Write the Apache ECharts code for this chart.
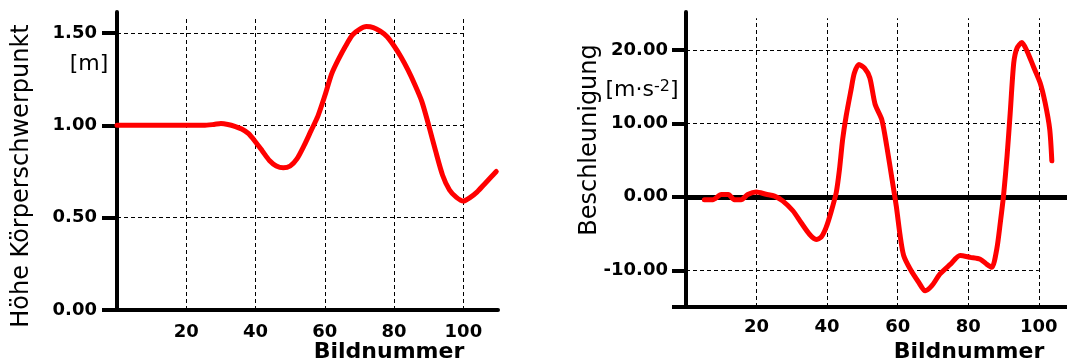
<!DOCTYPE html>
<html>
<head>
<meta charset="utf-8">
<script src="https://cdn.jsdelivr.net/npm/echarts@6/dist/echarts.min.js"></script>
<style>
  html, body { margin: 0; padding: 0; background: #fff; }
  #chart { width: 1067px; height: 363px; }
</style>
</head>
<body>
<div id="chart"></div>
<script>
// left panel: height of centre of mass per frame
var heightFrames = [0, 5, 10, 15, 20, 25, 28, 30, 32, 34, 36, 38, 40, 42, 44, 46, 48, 50, 52, 54, 56, 58, 60, 62, 64, 66, 68, 70, 72, 74, 76, 78, 80, 82, 84, 86, 88, 90, 92, 94, 96, 98, 100, 102, 104, 106, 108, 109.5];
var heightValues = [1.00, 1.00, 1.00, 1.00, 1.00, 1.00, 1.005, 1.01, 1.005, 0.995, 0.98, 0.955, 0.91, 0.86, 0.81, 0.78, 0.77, 0.78, 0.82, 0.89, 0.97, 1.05, 1.16, 1.28, 1.36, 1.43, 1.49, 1.52, 1.535, 1.53, 1.51, 1.48, 1.43, 1.37, 1.30, 1.22, 1.13, 1.00, 0.86, 0.73, 0.65, 0.61, 0.59, 0.61, 0.64, 0.68, 0.72, 0.75];

// right panel: acceleration per frame
var accFrames = [5.2, 7.6, 10, 12, 13.7, 15.6, 17.5, 19.9, 22.7, 25.1, 27.4, 30.3, 32.6, 35, 36.9, 38.3, 39.7, 41.1, 42.6, 43.5, 44.4, 45.4, 46.8, 47.7, 49, 50.6, 52.1, 53.6, 55.5, 56.9, 58.4, 59.6, 60.7, 61.7, 63.5, 65.9, 67.8, 69.7, 72, 74.9, 77.7, 80.6, 83.4, 85.3, 86.7, 88.1, 89.1, 90, 91, 91.9, 92.9, 93.8, 95.2, 96.7, 98.5, 100.4, 101.8, 103.1, 103.7];
var accValues = [-0.4, -0.4, 0.3, 0.3, -0.4, -0.4, 0.3, 0.65, 0.35, 0.1, -0.55, -1.9, -3.5, -5.1, -5.8, -5.5, -4.2, -2.1, 0.6, 3.7, 7.8, 11.0, 14.6, 16.8, 18.0, 17.5, 16.2, 12.6, 10.5, 6.9, 2.4, -1.25, -5.3, -8.0, -9.8, -11.6, -12.8, -12.1, -10.5, -9.2, -8.0, -8.25, -8.5, -9.2, -9.6, -7.1, -3.5, 0.1, 5.5, 11.4, 18.2, 20.2, 21.0, 19.8, 17.7, 15.5, 12.8, 9.2, 4.9];

var xTicks = [20, 40, 60, 80, 100];
var heightTicks = [0, 0.5, 1.0, 1.5];
var accTicks = [-10, 0, 10, 20];

var FONT = 'DejaVu Sans';

function zip(xs, ys) {
  return xs.map(function (x, i) { return [x, ys[i]]; });
}

// dashed grid lines: horizontal ones stop at the last x tick
function gridLines(yTicks, yMin, yTop) {
  var lines = [];
  yTicks.forEach(function (v) {
    if (v === yMin || v === 0 && yMin < 0) return;
    lines.push([{ coord: [0, v] }, { coord: [xTicks[xTicks.length - 1], v] }]);
  });
  xTicks.forEach(function (v) {
    lines.push([{ coord: [v, yMin] }, { coord: [v, yTop] }]);
  });
  return lines;
}

function yAxisOpt(idx, min, max, interval, labelTicks, tickVals, tickLen, margin) {
  return {
    type: 'value', gridIndex: idx, min: min, max: max, interval: interval,
    axisLine: { show: true, lineStyle: { color: '#000', width: 4 } },
    axisTick: { show: true, length: tickLen, customValues: tickVals, lineStyle: { color: '#000', width: 4 } },
    axisLabel: {
      customValues: labelTicks, margin: margin,
      color: '#000', fontFamily: FONT, fontWeight: 'bold', fontSize: 18,
      formatter: function (v) { return v.toFixed(2); }
    },
    splitLine: { show: false }
  };
}

function xAxisOpt(idx, max, margin) {
  return {
    type: 'value', gridIndex: idx, min: 0, max: max, interval: 20,
    axisLine: { show: true, onZero: false, lineStyle: { color: '#000', width: 4 } },
    axisTick: { show: false },
    axisLabel: {
      customValues: xTicks, margin: margin,
      color: '#000', fontFamily: FONT, fontWeight: 'bold', fontSize: 18
    },
    splitLine: { show: false }
  };
}

var dashStyle = { color: '#000', width: 1, type: [4, 3] };

var chart = echarts.init(document.getElementById('chart'));
chart.setOption({
  animation: false,
  backgroundColor: '#fff',
  grid: [
    { left: 117, top: 12, right: 569, bottom: 53 },
    { left: 686, top: 12, right: 0, bottom: 56 }
  ],
  xAxis: [xAxisOpt(0, 110, 13), xAxisOpt(1, 108, 11)],
  yAxis: [
    yAxisOpt(0, 0, 1.614, 0.5, heightTicks, heightTicks, 15, 20),
    yAxisOpt(1, -15, 25.15, 5, accTicks, [-15].concat(accTicks), 14, 18)
  ],
  series: [
    {
      type: 'line', xAxisIndex: 0, yAxisIndex: 0,
      data: zip(heightFrames, heightValues),
      showSymbol: false, smooth: 0.25,
      lineStyle: { color: '#ff0000', width: 5, cap: 'round', join: 'round' },
      markLine: {
        z: 1, silent: true, symbol: 'none', label: { show: false },
        lineStyle: dashStyle,
        emphasis: { disabled: true },
        data: gridLines(heightTicks, 0, 1.587)
      }
    },
    {
      type: 'line', xAxisIndex: 1, yAxisIndex: 1,
      data: zip(accFrames, accValues),
      showSymbol: false, smooth: 0.25,
      lineStyle: { color: '#ff0000', width: 5, cap: 'round', join: 'round' },
      markLine: {
        z: 1, silent: true, symbol: 'none', label: { show: false },
        lineStyle: dashStyle,
        emphasis: { disabled: true },
        data: gridLines(accTicks, -15, 24.3).concat([
          { yAxis: 0, lineStyle: { color: '#000', width: 5, type: 'solid' } }
        ])
      }
    }
  ],
  graphic: [
    {
      type: 'text', x: 22, y: 176, rotation: Math.PI / 2,
      style: { text: 'Höhe Körperschwerpunkt', fill: '#000', font: '24px "DejaVu Sans"', align: 'center', verticalAlign: 'middle' }
    },
    {
      type: 'text', x: 89, y: 64,
      style: { text: '[m]', fill: '#000', font: '22px "DejaVu Sans"', align: 'center', verticalAlign: 'middle' }
    },
    {
      type: 'text', x: 389, y: 352,
      style: { text: 'Bildnummer', fill: '#000', font: 'bold 22px "DejaVu Sans"', align: 'center', verticalAlign: 'middle' }
    },
    {
      type: 'text', x: 590, y: 140, rotation: Math.PI / 2,
      style: { text: 'Beschleunigung', fill: '#000', font: '24px "DejaVu Sans"', align: 'center', verticalAlign: 'middle' }
    },
    {
      type: 'text', x: 642, y: 90,
      style: {
        text: '[m·s{sup|-2}]', fill: '#000', font: '22px "DejaVu Sans"', align: 'center', verticalAlign: 'middle',
        rich: { sup: { fontSize: 16, fontFamily: FONT, verticalAlign: 'top', fill: '#000' } }
      }
    },
    {
      type: 'text', x: 969, y: 352,
      style: { text: 'Bildnummer', fill: '#000', font: 'bold 22px "DejaVu Sans"', align: 'center', verticalAlign: 'middle' }
    }
  ]
});
</script>
</body>
</html>
